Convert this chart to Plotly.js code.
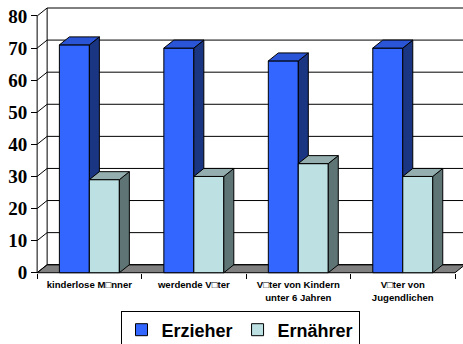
<!DOCTYPE html>
<html>
<head>
<meta charset="utf-8">
<script src="https://cdn.plot.ly/plotly-3.0.1.min.js"></script>
<style>
  html, body { margin: 0; padding: 0; background: #ffffff; }
  #chart { width: 463px; height: 344px; }
</style>
</head>
<body>
<div id="chart"></div>
<script>
// Categories (labels as they appear on the axis) and the two series
const categories = [
  'kinderlose M\u25A1nner',
  'werdende V\u25A1ter',
  'V\u25A1ter von Kindern<br>unter 6 Jahren',
  'V\u25A1ter von<br>Jugendlichen'
];
const seriesNames = ['Erzieher', 'Ern\u00e4hrer'];
const erzieher = [71, 70, 66, 70];
const ernaehrer = [29, 30, 34, 30];
const yTickValues = [0, 10, 20, 30, 40, 50, 60, 70, 80];

// Pseudo-3D geometry (in axis units)
const BAR_W = 0.287;      // width of one bar
const DX = 0.0957;        // depth offset to the right
const DY = 2.49;          // depth offset upwards
const N = categories.length;
const Y_MAX = yTickValues[yTickValues.length - 1];

const colors = {
  blueFront: '#3366FF', blueSide: '#1A3582', blueTop: '#2A55D6',
  lightFront: '#BDE0E3', lightSide: '#5F7575', lightTop: '#94AEAF',
  floor: '#808080'
};

function joinPolys(polys) {
  const xs = [], ys = [];
  polys.forEach((p, i) => {
    if (i > 0) { xs.push(null); ys.push(null); }
    xs.push(...p[0]); ys.push(...p[1]);
  });
  return [xs, ys];
}
function frontFace(x0, x1, v) { return [[x0, x1, x1, x0, x0], [0, 0, v, v, 0]]; }
function sideFace(x1, v) { return [[x1, x1 + DX, x1 + DX, x1, x1], [0, DY, v + DY, v, 0]]; }
function topFace(x0, x1, v) { return [[x0, x1, x1 + DX, x0 + DX, x0], [v, v, v + DY, v + DY, v]]; }

function faceTrace(polys, fill) {
  const [x, y] = joinPolys(polys);
  return {
    type: 'scatter', mode: 'lines', x: x, y: y,
    fill: 'toself', fillcolor: fill,
    line: { color: '#000000', width: 1 },
    showlegend: false, hoverinfo: 'skip', connectgaps: false
  };
}

function barFaces(values, offsetLeft, cFront, cSide, cTop) {
  const fr = [], sd = [], tp = [];
  values.forEach((v, i) => {
    const c = i + 0.5;
    const x0 = offsetLeft ? c - BAR_W : c;
    const x1 = x0 + BAR_W;
    fr.push(frontFace(x0, x1, v));
    sd.push(sideFace(x1, v));
    tp.push(topFace(x0, x1, v));
  });
  return [faceTrace(fr, cFront), faceTrace(sd, cSide), faceTrace(tp, cTop)];
}

const traces = [];

// Floor
traces.push(faceTrace([[[0, N, N + DX, DX, 0], [0, 0, DY, DY, 0]]], colors.floor));

// Walls: gridlines run along the left side wall and across the back wall
const gx = [], gy = [];
yTickValues.forEach(v => {
  gx.push(0, DX, N + DX, null);
  gy.push(v, v + DY, v + DY, null);
});
// front axis line and back-wall left edge
gx.push(0, 0, null, DX, DX);
gy.push(0, Y_MAX, null, DY, Y_MAX + DY);
traces.push({
  type: 'scatter', mode: 'lines', x: gx, y: gy,
  line: { color: '#000000', width: 1 },
  showlegend: false, hoverinfo: 'skip', connectgaps: false
});

// Bars: Erzieher (left of each pair), then Ernährer (right)
traces.push(...barFaces(erzieher, true, colors.blueFront, colors.blueSide, colors.blueTop));
traces.push(...barFaces(ernaehrer, false, colors.lightFront, colors.lightSide, colors.lightTop));

// Legend entries
[[seriesNames[0], colors.blueFront], [seriesNames[1], colors.lightFront]].forEach(([name, col]) => {
  traces.push({
    type: 'scatter', mode: 'markers', x: [null], y: [null], name: name,
    marker: { symbol: 'square', size: 12, color: col, line: { color: '#000000', width: 1 } },
    showlegend: true, hoverinfo: 'skip'
  });
});

// Axis scaling
const W = 463, H = 344;
const X0PX = 37, PXU = 104.5;      // pixel of x=0 and pixels per category
const Y0PX = 273, PYU = 3.2125;    // pixel of y=0 and pixels per unit
const xLo = -0.03, xHi = (W - X0PX) / PXU;
const yLo = -0.4, yHi = (Y0PX - 6) / PYU;

const layout = {
  width: W, height: H,
  paper_bgcolor: '#ffffff', plot_bgcolor: 'rgba(0,0,0,0)',
  margin: { l: X0PX + xLo * PXU, r: 0, t: 6, b: H - Y0PX + yLo * PYU, pad: 0 },
  showlegend: true,
  hovermode: false,
  xaxis: {
    range: [xLo, xHi], automargin: false, fixedrange: true,
    showgrid: false, zeroline: false, showline: false,
    tickvals: categories.map((_, i) => i + 0.5), ticktext: categories,
    ticks: '', ticklabelstandoff: 5,
    anchor: 'free', position: (0 - yLo) / (yHi - yLo),
    tickfont: { family: '"Liberation Sans", Arial, sans-serif', size: 9.6, weight: 'bold', color: '#000000' }
  },
  xaxis2: {
    overlaying: 'x', range: [xLo, xHi], automargin: false, fixedrange: true,
    showgrid: false, zeroline: false, showline: false,
    tickvals: Array.from({ length: N + 1 }, (_, i) => i),
    ticks: 'outside', ticklen: 5, tickwidth: 1, tickcolor: '#000000',
    showticklabels: false, side: 'bottom',
    anchor: 'free', position: (0 - yLo) / (yHi - yLo)
  },
  yaxis: {
    range: [yLo, yHi], automargin: false, fixedrange: true,
    showgrid: false, zeroline: false, showline: false,
    tickvals: yTickValues,
    ticks: 'outside', ticklen: 6, tickwidth: 1, tickcolor: '#000000',
    anchor: 'free', position: (0 - xLo) / (xHi - xLo),
    tickfont: { family: '"Liberation Serif", "Times New Roman", serif', size: 19, weight: 'bold', color: '#000000' }
  },
  legend: {
    orientation: 'h',
    xref: 'container', yref: 'container',
    x: 240 / W, xanchor: 'center',
    y: (H - 310.5) / H, yanchor: 'top',
    bgcolor: '#ffffff', bordercolor: '#000000', borderwidth: 1,
    itemwidth: 30,
    font: { family: '"Liberation Sans", Arial, sans-serif', size: 18, weight: 'bold', color: '#000000' }
  }
};

// one invisible trace bound to xaxis2 so its tick marks render
traces.push({ type: 'scatter', mode: 'lines', x: [null], y: [null], xaxis: 'x2', showlegend: false, hoverinfo: 'skip' });

Plotly.newPlot('chart', traces, layout, { staticPlot: true, displayModeBar: false });
</script>
</body>
</html>
